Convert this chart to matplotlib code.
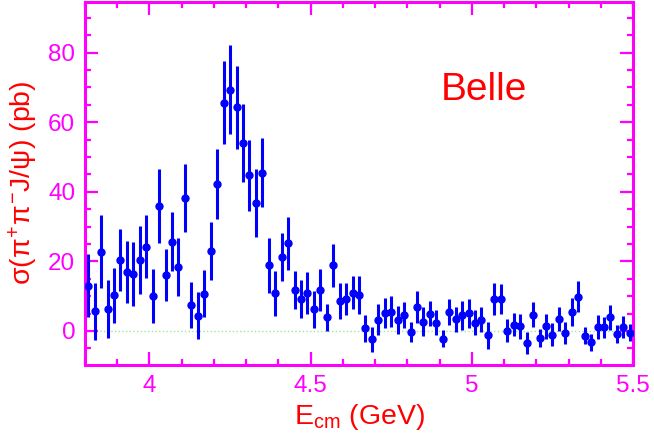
import numpy as np
import matplotlib
matplotlib.use("Agg")
import matplotlib.pyplot as plt
from matplotlib.ticker import MultipleLocator

plt.rcParams['font.family'] = ['Liberation Sans', 'DejaVu Sans']
plt.rcParams['mathtext.fontset'] = 'custom'
plt.rcParams['mathtext.rm'] = 'Liberation Sans'
plt.rcParams['mathtext.it'] = 'Liberation Sans'
plt.rcParams['mathtext.bf'] = 'Liberation Sans:bold'

MAGENTA = '#ff00ff'

# centre-of-mass energy (GeV), 20 MeV bins
energy = np.round(np.arange(3.81, 5.50, 0.02), 2)

# cross section (pb)
sigma = [13.0, 5.7, 22.8, 6.3, 10.2, 20.4, 16.9, 16.4, 20.4, 24.2,
         10.1, 35.9, 16.1, 25.7, 18.4, 38.1, 7.4, 4.4, 10.7, 23.0,
         42.3, 65.6, 69.4, 64.3, 53.9, 44.8, 36.8, 45.5, 18.9, 10.8,
         21.3, 25.2, 11.8, 9.2, 10.8, 6.2, 11.8, 3.9, 18.9, 8.6,
         9.1, 11.0, 10.4, 0.7, -2.4, 3.2, 5.1, 5.5, 3.2, 4.5,
         -0.3, 6.9, 2.7, 4.9, 2.4, -2.2, 5.5, 3.3, 4.5, 5.1,
         2.4, 3.2, -1.2, 9.2, 9.1, 0.1, 1.8, 1.3, -3.5, 4.7,
         -2.1, 1.3, -1.1, 3.4, -0.7, 5.5, 9.8, -1.4, -3.3, 1.2,
         1.0, 3.9, -0.9, 1.2, -0.5]

# statistical errors (pb)
sigma_err = [9.0, 8.2, 10.6, 8.4, 7.9, 8.9, 8.9, 9.1, 9.7, 9.1,
             7.7, 10.6, 7.5, 8.6, 8.3, 9.8, 6.7, 6.7, 6.7, 8.3,
             10.0, 11.9, 12.8, 12.0, 11.2, 10.2, 9.7, 10.0, 7.9, 6.4,
             6.9, 7.6, 5.4, 5.4, 6.0, 5.3, 6.1, 3.9, 6.2, 5.2,
             4.6, 4.8, 5.5, 3.9, 3.6, 4.4, 4.4, 4.5, 4.0, 3.8,
             2.9, 4.5, 4.1, 3.6, 3.5, 2.5, 3.7, 3.5, 4.2, 4.2,
             3.7, 3.6, 3.9, 4.5, 4.3, 3.3, 3.3, 3.5, 3.1, 3.7,
             2.6, 3.6, 3.3, 3.4, 3.2, 4.1, 4.5, 2.4, 2.5, 3.5,
             2.9, 3.6, 2.7, 3.2, 2.5]

fig = plt.figure(figsize=(6.54, 4.43), dpi=100)
ax = fig.add_axes([85/654, 1 - 365/443, 548/654, 363.5/443])

ax.axhline(0, color='#9be89b', linestyle=':', linewidth=1.0, zorder=1)
ax.errorbar(energy, sigma, yerr=sigma_err, fmt='o', color='#0000ff',
            markersize=5, elinewidth=2.2, capsize=0, zorder=3)

ax.set_xlim(3.8, 5.5)
ax.set_ylim(-9.8, 94.7)

ax.xaxis.set_major_locator(MultipleLocator(0.5))
ax.xaxis.set_minor_locator(MultipleLocator(0.1))
ax.yaxis.set_major_locator(MultipleLocator(20))
ax.yaxis.set_minor_locator(MultipleLocator(5))
ax.set_xticks([4, 4.5, 5, 5.5])
ax.set_xticklabels(['4', '4.5', '5', '5.5'])

for s in ax.spines.values():
    s.set_color(MAGENTA)
    s.set_linewidth(2.2)
ax.tick_params(which='both', direction='in', top=True, right=True,
               color=MAGENTA, labelcolor=MAGENTA, labelsize=17.5, width=1.6)
ax.tick_params(which='major', length=9.5, pad=7)
ax.tick_params(which='minor', length=4.5)

ax.set_xlabel(r'E$_{\rm cm}$ (GeV)', color='red', fontsize=20.5, labelpad=4)
ax.set_ylabel(r'$\sigma(\pi^{+}\pi^{-}J/\psi)$ (pb)', color='red',
              fontsize=20.5, labelpad=6)

# experiment label
ax.text(5.037, 69.3, 'Belle', color='red', fontsize=28, ha='center', va='center')

fig.savefig('out.png', dpi=100)
